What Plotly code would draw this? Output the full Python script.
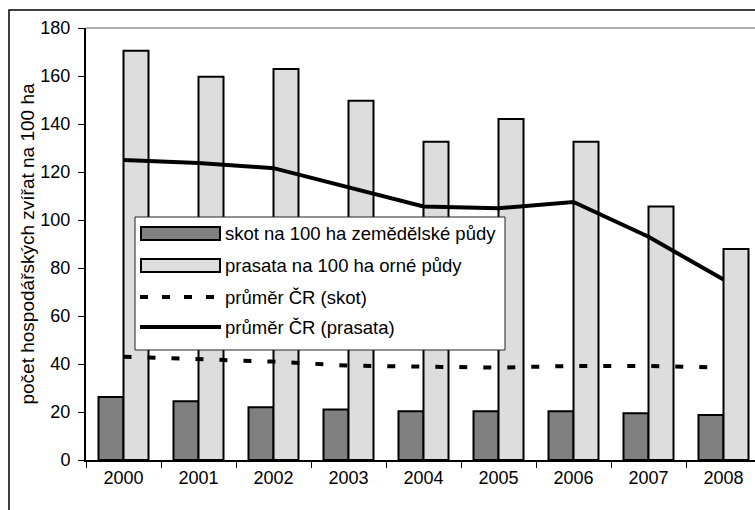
import plotly.graph_objects as go

years = ["2000", "2001", "2002", "2003", "2004", "2005", "2006", "2007", "2008"]
skot = [26.2, 24.5, 22.0, 21.0, 20.3, 20.3, 20.3, 19.5, 18.7]
prasata = [170.5, 159.7, 162.9, 149.7, 132.6, 142.1, 132.6, 105.6, 87.9]
prumer_skot = [43.0, 42.0, 41.0, 39.3, 39.0, 38.5, 39.2, 39.2, 38.5]
prumer_prasata = [125.0, 123.8, 121.6, 113.4, 105.6, 104.9, 107.5, 93.0, 75.2]
y_ticks = [0, 20, 40, 60, 80, 100, 120, 140, 160, 180]

names = ["skot na 100 ha zemědělské půdy", "prasata na 100 ha orné půdy",
         "průměr ČR (skot)", "průměr ČR (prasata)"]

FONT = "Liberation Sans, Arial, sans-serif"
W, H = 755, 510
L, T, B, R = 86, 28, 50, 0
PW = W - L - R
PH = H - T - B

def px(x):
    return (x - L) / PW

def py(y):
    return (H - B - y) / PH

fig = go.Figure()
fig.add_trace(go.Bar(x=years, y=skot, name=names[0], marker=dict(color="#808080", line=dict(color="black", width=2)), showlegend=False))
fig.add_trace(go.Bar(x=years, y=prasata, name=names[1], marker=dict(color="#dddddd", line=dict(color="black", width=2)), showlegend=False))
fig.add_trace(go.Scatter(x=years, y=prumer_skot, name=names[2], mode="lines", line=dict(color="black", width=4, dash="8px,16px"), showlegend=False))
fig.add_trace(go.Scatter(x=years, y=prumer_prasata, name=names[3], mode="lines", line=dict(color="black", width=4), showlegend=False))

shapes = []
# outer chart border
shapes.append(dict(type="rect", xref="paper", yref="paper", x0=px(9), x1=px(770), y0=py(10), y1=py(520),
                   line=dict(color="black", width=1.5), fillcolor="rgba(0,0,0,0)", layer="above"))
# plot area top border
shapes.append(dict(type="line", xref="paper", yref="paper", x0=0, x1=px(770), y0=1, y1=1,
                   line=dict(color="#999999", width=1.5), layer="above"))
# legend box
shapes.append(dict(type="rect", xref="paper", yref="paper", x0=px(135), x1=px(505), y0=py(217), y1=py(350),
                   line=dict(color="#222222", width=1), fillcolor="white", layer="above"))
# swatches
shapes.append(dict(type="rect", xref="paper", yref="paper", x0=px(141), x1=px(220), y0=py(227), y1=py(240),
                   line=dict(color="black", width=2), fillcolor="#808080", layer="above"))
shapes.append(dict(type="rect", xref="paper", yref="paper", x0=px(141), x1=px(220), y0=py(259), y1=py(272),
                   line=dict(color="black", width=2), fillcolor="#dddddd", layer="above"))
shapes.append(dict(type="line", xref="paper", yref="paper", x0=px(140), x1=px(221), y0=py(297), y1=py(297),
                   line=dict(color="black", width=4, dash="8px,14px"), layer="above"))
shapes.append(dict(type="line", xref="paper", yref="paper", x0=px(140), x1=px(221), y0=py(327), y1=py(327),
                   line=dict(color="black", width=4), layer="above"))

annotations = []
for name, yc in zip(names, [233, 265, 297, 327]):
    annotations.append(dict(text=name, xref="paper", yref="paper", x=px(223), y=py(yc), xanchor="left", yanchor="middle",
                            showarrow=False, font=dict(family=FONT, size=18.5, color="black")))

fig.update_layout(
    width=W, height=H,
    margin=dict(l=L, r=R, t=T, b=B),
    paper_bgcolor="white", plot_bgcolor="white",
    barmode="group", bargap=1/3, bargroupgap=0,
    font=dict(family=FONT, size=18, color="black"),
    shapes=shapes, annotations=annotations,
    showlegend=False,
)
fig.update_xaxes(type="category", range=[-0.5, -0.5 + PW / 75.0], showline=True, linecolor="black", linewidth=2,
                 ticks="outside", ticklen=6, tickwidth=1, tickcolor="black", tickson="boundaries",
                 showgrid=False, zeroline=False, tickfont=dict(family=FONT, size=18, color="black"))
fig.update_yaxes(range=[0, 180], tickvals=y_ticks, showline=True, linecolor="black", linewidth=2,
                 ticks="outside", ticklen=6, tickwidth=1, tickcolor="black", showgrid=False, zeroline=False,
                 tickfont=dict(family=FONT, size=18, color="black"), ticklabelstandoff=4,
                 title=dict(text="počet hospodářských zvířat na 100 ha", font=dict(family=FONT, size=19, color="black"), standoff=1))

fig.write_html("out.html", config={"displayModeBar": False},
               post_script="document.body.style.margin='0';document.body.style.overflow='hidden';")
